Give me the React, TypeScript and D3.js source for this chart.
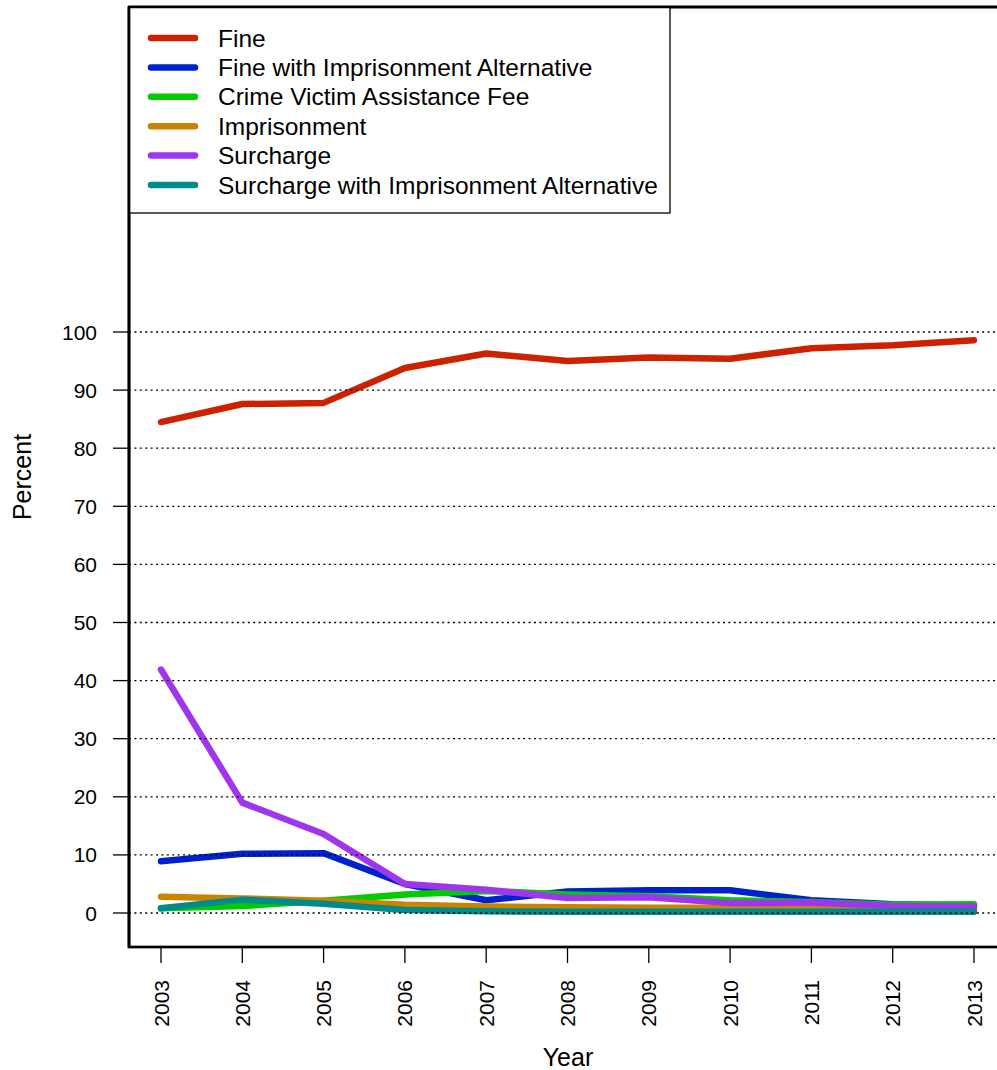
import React from "react";
import * as d3 from "d3";

const years = [2003, 2004, 2005, 2006, 2007, 2008, 2009, 2010, 2011, 2012, 2013];
const fine = [84.5, 87.6, 87.8, 93.8, 96.3, 95.0, 95.6, 95.4, 97.2, 97.7, 98.6];
const fineImp = [8.9, 10.2, 10.3, 5.0, 2.2, 3.7, 3.9, 3.9, 2.2, 1.5, 1.3];
const crimeVictim = [0.8, 1.2, 2.1, 3.2, 3.8, 3.2, 2.9, 2.2, 1.9, 1.4, 1.5];
const imprisonment = [2.8, 2.5, 2.1, 1.4, 1.1, 1.0, 0.9, 0.9, 0.8, 0.6, 0.6];
const surcharge = [41.9, 19.0, 13.6, 5.0, 4.0, 2.6, 2.7, 1.7, 1.8, 1.2, 1.1];
const surchargeImp = [0.8, 2.3, 1.6, 0.5, 0.3, 0.2, 0.2, 0.2, 0.2, 0.2, 0.2];

const seriesNames = [
  "Fine",
  "Fine with Imprisonment Alternative",
  "Crime Victim Assistance Fee",
  "Imprisonment",
  "Surcharge",
  "Surcharge with Imprisonment Alternative",
];
const seriesValues = [fine, fineImp, crimeVictim, imprisonment, surcharge, surchargeImp];
const seriesColors = ["#cc2200", "#0022cc", "#00cc00", "#cc8400", "#a035ee", "#008b8b"];
const yTicks = [0, 10, 20, 30, 40, 50, 60, 70, 80, 90, 100];

const FONT = "'Liberation Sans', Arial, Helvetica, sans-serif";

export default function App() {
  const W = 997;
  const H = 1070;
  const left = 129;
  const top = 7;
  const bottom = 947;
  const right = 1005;

  const x = d3.scaleLinear().domain([2003, 2013]).range([161, 974]);
  const y = d3.scaleLinear().domain([0, 100]).range([913, 332]);

  const line = d3
    .line<number>()
    .x((_, i) => x(years[i]))
    .y((d) => y(d));

  const legendRows = seriesNames.map((_, i) => 38 + i * 29.4);

  return (
    <svg
      width={W}
      height={H}
      style={{ position: "absolute", left: 0, top: 0, display: "block", background: "#fff" }}
      fontFamily={FONT}
    >
      <rect x={0} y={0} width={W} height={H} fill="#fff" />
      {/* series */}
      {seriesValues.map((vals, i) => (
        <path
          key={seriesNames[i]}
          d={line(vals) || ""}
          fill="none"
          stroke={seriesColors[i]}
          strokeWidth={6.5}
          strokeLinecap="round"
          strokeLinejoin="round"
        />
      ))}
      {/* grid */}
      {yTicks.map((t) => (
        <line
          key={"g" + t}
          x1={left}
          x2={right}
          y1={y(t)}
          y2={y(t)}
          stroke="#000"
          strokeWidth={1.3}
          strokeDasharray="2,3.4"
        />
      ))}
      {/* frame */}
      <rect
        x={left}
        y={top}
        width={right - left}
        height={bottom - top}
        fill="none"
        stroke="#000"
        strokeWidth={2.7}
      />
      {/* y axis ticks */}
      {yTicks.map((t) => (
        <g key={"y" + t}>
          <line x1={113} x2={left} y1={y(t)} y2={y(t)} stroke="#000" strokeWidth={1.3} />
          <text
            x={97}
            y={y(t)}
            textAnchor="end"
            dominantBaseline="central"
            fontSize={21}
            fill="#000"
          >
            {t}
          </text>
        </g>
      ))}
      {/* x axis ticks */}
      {years.map((yr) => (
        <g key={"x" + yr}>
          <line x1={x(yr)} x2={x(yr)} y1={bottom} y2={963} stroke="#000" strokeWidth={1.3} />
          <text
            transform={`translate(${x(yr)},980) rotate(-90)`}
            textAnchor="end"
            dominantBaseline="central"
            fontSize={21}
            fill="#000"
          >
            {yr}
          </text>
        </g>
      ))}
      {/* axis titles */}
      <text
        transform="translate(31,477) rotate(-90)"
        textAnchor="middle"
        fontSize={25}
        fill="#000"
      >
        Percent
      </text>
      <text x={568} y={1066} textAnchor="middle" fontSize={25} fill="#000">
        Year
      </text>
      {/* legend */}
      <rect x={left} y={top} width={670 - left} height={213 - top} fill="#fff" stroke="#000" strokeWidth={1.3} />
      {seriesNames.map((name, i) => (
        <g key={"l" + name}>
          <line
            x1={151}
            x2={195}
            y1={legendRows[i]}
            y2={legendRows[i]}
            stroke={seriesColors[i]}
            strokeWidth={6.5}
            strokeLinecap="round"
          />
          <text x={218} y={legendRows[i] + 8.5} fontSize={24.5} fill="#000">
            {name}
          </text>
        </g>
      ))}
      <line x1={left} x2={left} y1={top} y2={bottom} stroke="#000" strokeWidth={2.7} />
      <line x1={left} x2={right} y1={top} y2={top} stroke="#000" strokeWidth={2.7} />
    </svg>
  );
}
